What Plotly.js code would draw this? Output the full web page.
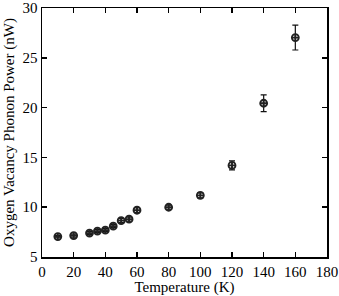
<!DOCTYPE html>
<html>
<head>
<meta charset="utf-8">
<script src="https://cdn.plot.ly/plotly-3.0.1.min.js"></script>
<style>html,body{margin:0;padding:0;background:#fff;}#plot{width:339px;height:296px;}</style>
</head>
<body>
<div id="plot"></div>
<script>
const temperature = [10, 20, 30, 35, 40, 45, 50, 55, 60, 80, 100, 120, 140, 160];
const power = [7.05, 7.15, 7.4, 7.6, 7.7, 8.1, 8.65, 8.8, 9.7, 10.0, 11.2, 14.2, 20.45, 27.05];
const powerErr = [0.12, 0.15, 0.15, 0.15, 0.15, 0.15, 0.2, 0.2, 0.25, 0.2, 0.25, 0.45, 0.85, 1.25];
const xTicks = [0, 20, 40, 60, 80, 100, 120, 140, 160, 180];
const yTicks = [5, 10, 15, 20, 25, 30];

const font = {family: 'Liberation Serif, DejaVu Serif, serif', size: 15, color: '#000'};
const trace = {
  x: temperature, y: power, type: 'scatter', mode: 'markers',
  marker: {symbol: 'circle-cross-open', size: 7, color: '#222', line: {width: 1.8, color: '#222'}},
  error_y: {type: 'data', array: powerErr, visible: true, color: '#111', thickness: 1.2, width: 3},
  hoverinfo: 'none', cliponaxis: false
};
const axisCommon = {
  showgrid: false, zeroline: false, showline: true, linecolor: '#000', linewidth: 1.5,
  mirror: 'ticks', ticks: 'inside', ticklen: 5, tickwidth: 1.5, tickcolor: '#000',
  tickfont: font, ticklabeloverflow: 'allow', automargin: false
};
const layout = {
  width: 339, height: 296,
  margin: {l: 42, r: 12, t: 8, b: 39},
  paper_bgcolor: '#fff', plot_bgcolor: '#fff',
  font: font,
  showlegend: false,
  xaxis: Object.assign({}, axisCommon, {
    range: [0, 180.0001], tickvals: xTicks, ticktext: xTicks.map(String),
    title: {text: 'Temperature (K)', font: font, standoff: 3}
  }),
  yaxis: Object.assign({}, axisCommon, {
    range: [5, 30.02], tickvals: yTicks, ticktext: yTicks.map(String),
    title: {text: 'Oxygen Vacancy Phonon Power (nW)', font: font, standoff: 4}
  })
};
Plotly.newPlot('plot', [trace], layout, {displayModeBar: false, staticPlot: true});
</script>
</body>
</html>
